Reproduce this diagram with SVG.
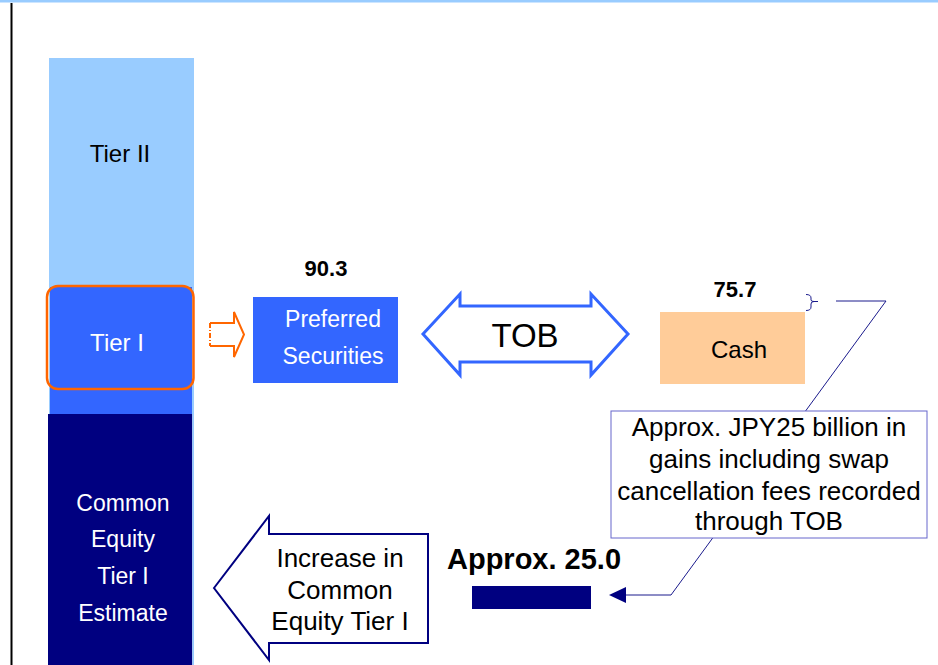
<svg xmlns="http://www.w3.org/2000/svg" width="938" height="665" viewBox="0 0 938 665">
<style>
text{font-family:"Liberation Sans",Arial,sans-serif;text-anchor:middle}
.w{fill:#fff;font-size:23px}
.k{fill:#000;font-size:23px}
.n{fill:#000;font-size:26px}
.b{font-weight:bold;fill:#000}
.conn{fill:none;stroke:#1a1a8c;stroke-width:1}
</style>
<defs>
<marker id="ah" markerWidth="17" markerHeight="16" refX="0" refY="8" orient="auto-start-reverse" markerUnits="userSpaceOnUse" viewBox="0 0 17 16">
<path d="M17,0 L0,8 L17,16 Z" fill="#000080"/>
</marker>
</defs>
<rect x="0" y="0" width="938" height="2.5" fill="#99CCFF"/>
<rect x="10.5" y="3" width="2" height="662" fill="#000"/>

<g id="bar">
<rect x="49" y="58" width="145" height="232" fill="#99CCFF"/>
<rect x="49" y="287" width="145" height="127" fill="#99CCFF"/>
<rect x="50" y="287" width="142" height="127" fill="#3366FF"/>
<rect x="48" y="414" width="144.3" height="251" fill="#000080"/>
<rect x="192.3" y="414" width="1.7" height="251" fill="#99CCFF"/>
</g>
<g id="tier2"><text class="k" x="120" y="162" style="font-size:24px">Tier II</text></g>
<g id="tier1">
<rect x="47" y="286" width="146.5" height="103" rx="11" fill="none" stroke="#FF6600" stroke-width="2.5"/>
<text class="w" x="117" y="351" style="font-size:24px">Tier I</text>
</g>
<g id="cet1">
<text class="w" x="123" y="511">Common</text>
<text class="w" x="123" y="547">Equity</text>
<text class="w" x="123" y="584">Tier I</text>
<text class="w" x="123" y="621">Estimate</text>
</g>
<g id="orangeArrow">
<path d="M210,323 L234,323 L234,312 L244,334.5 L234,357 L234,346 L210,346" fill="none" stroke="#FF6600" stroke-width="2"/>
<path d="M210,323 L210,346" fill="none" stroke="#FF6600" stroke-width="2" stroke-dasharray="5,2,1,2"/>
</g>
<g id="preferred">
<text class="b" x="326" y="276" style="font-size:22px">90.3</text>
<rect x="253" y="297" width="145" height="86" fill="#3366FF"/>
<text class="w" x="333" y="327">Preferred</text>
<text class="w" x="333" y="364">Securities</text>
</g>
<g id="tob">
<path d="M423,334 L460,294 L460,306 L591,306 L591,294 L628,334 L591,375 L591,362 L460,362 L460,375 Z" fill="#fff" stroke="#3366FF" stroke-width="3" stroke-linejoin="miter"/>
<text x="525" y="347" style="font-size:33px" fill="#000">TOB</text>
</g>
<g id="cash">
<text class="b" x="735" y="297" style="font-size:22px">75.7</text>
<rect x="660" y="312" width="145" height="72" fill="#FFCC99"/>
<text class="k" x="739" y="358" style="font-size:24px">Cash</text>
</g>
<g id="connectors">
<path class="conn" d="M806,294.5 Q811,294.5 811,298 L811,300 Q811,301.5 814,301.5 L818,301.5 M814,301.5 Q811,301.5 811,304 L811,307 Q811,310.5 806,310.5"/>
<path class="conn" d="M836,301 L886,301 L671,595 L620,595"/>
<path d="M609,595 L626,587 L626,603 Z" fill="#000080"/>
</g>
<g id="note">
<rect x="611" y="411" width="316" height="127" fill="#fff" stroke="#6666CC" stroke-width="1"/>
<text class="n" x="769" y="436">Approx. JPY25 billion in</text>
<text class="n" x="769" y="468">gains including swap</text>
<text class="n" x="769" y="500">cancellation fees recorded</text>
<text class="n" x="769" y="530">through TOB</text>
</g>
<g id="increase">
<text class="b" x="534" y="569" style="font-size:29px">Approx. 25.0</text>
<rect x="472" y="586" width="119" height="23" fill="#000080"/>
</g>
<g id="bigArrow">
<path d="M214,588 L269,516 L269,534 L428,534 L428,643 L269,643 L269,660 Z" fill="#fff" stroke="#000080" stroke-width="2"/>
<text class="n" x="340" y="567">Increase in</text>
<text class="n" x="340" y="599">Common</text>
<text class="n" x="340" y="630">Equity Tier I</text>
</g>
</svg>
